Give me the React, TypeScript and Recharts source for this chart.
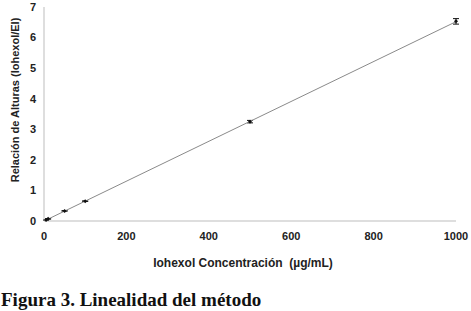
import { ComposedChart, Scatter, XAxis, YAxis, ErrorBar } from 'recharts';

// Iohexol calibration: concentration (µg/mL) vs height ratio (Iohexol/EI)
const concentrations = [5, 10, 50, 100, 500, 1000];
const ratios = [0.03, 0.07, 0.33, 0.65, 3.25, 6.53];
const ratioErrors = [0.01, 0.01, 0.01, 0.01, 0.04, 0.09];

// linear trend line end points
const trendX = [5, 1000];
const trendY = [0.03, 6.52];

const xTicks = [0, 200, 400, 600, 800, 1000];
const yTicks = [0, 1, 2, 3, 4, 5, 6, 7];

const points = concentrations.map((c, i) => ({ x: c, y: ratios[i], err: ratioErrors[i] }));
const trend = trendX.map((x, i) => ({ x, y: trendY[i] }));

const FONT = '"Liberation Sans", Arial, sans-serif';

function PointMark(props: any) {
    const { cx, cy } = props;
    if (cx == null || cy == null) return null;
    return <path d={`M${cx - 2},${cy} L${cx},${cy - 2} L${cx + 2},${cy} L${cx},${cy + 2} Z`} fill="#111" />;
}

function YTitle(props: any) {
    const vb = props.viewBox || { x: 0, y: 0, width: 44, height: 214 };
    const x = vb.x + 15;
    const y = vb.y + vb.height / 2 - 14;
    return (
        <text
            x={x}
            y={y}
            transform={`rotate(-90 ${x} ${y})`}
            textAnchor="middle"
            dominantBaseline="central"
            fontFamily={FONT}
            fontWeight="bold"
            fontSize={11}
            fill="#222"
        >
            Relación de Alturas (Iohexol/EI)
        </text>
    );
}

function XTitle(props: any) {
    const vb = props.viewBox || { x: 44, y: 221, width: 412, height: 54 };
    const x = vb.x + vb.width / 2 - 7;
    const y = vb.y + 46;
    return (
        <text
            x={x}
            y={y}
            textAnchor="middle"
            fontFamily={FONT}
            fontWeight="bold"
            fontSize={12}
            fill="#222"
            style={{ whiteSpace: 'pre' }}
        >
            Iohexol Concentración  (µg/mL)
        </text>
    );
}

export default function App() {
    return (
        <div style={{ position: 'absolute', left: 0, top: 0, width: 471, height: 311, background: '#fff' }}>
            <ComposedChart
                width={471}
                height={275}
                margin={{ top: 7, right: 15, left: 0, bottom: 0 }}
            >
                <XAxis
                    type="number"
                    dataKey="x"
                    domain={[0, 1000]}
                    ticks={xTicks}
                    height={54}
                    tickLine={false}
                    tickMargin={5}
                    axisLine={{ stroke: '#bdbdbd' }}
                    tick={{ fontFamily: FONT, fontWeight: 'bold', fontSize: 11, fill: '#222' }}
                    label={{ content: XTitle }}
                />
                <YAxis
                    type="number"
                    dataKey="y"
                    domain={[0, 7]}
                    ticks={yTicks}
                    width={44}
                    tickLine={false}
                    axisLine={{ stroke: '#bdbdbd' }}
                    tick={{ fontFamily: FONT, fontWeight: 'bold', fontSize: 11, fill: '#222' }}
                    label={{ content: YTitle }}
                />
                <Scatter
                    data={trend}
                    line={{ stroke: '#8a8a8a', strokeWidth: 1 }}
                    shape={() => null}
                    isAnimationActive={false}
                />
                <Scatter data={points} shape={PointMark} isAnimationActive={false}>
                    <ErrorBar dataKey="err" direction="y" width={3} stroke="#111" strokeWidth={1} />
                </Scatter>
            </ComposedChart>
            <div
                style={{
                    position: 'absolute',
                    left: 1,
                    top: 290,
                    fontFamily: '"Liberation Serif", "Times New Roman", serif',
                    fontWeight: 'bold',
                    fontSize: 19,
                    lineHeight: '19px',
                    color: '#111',
                    whiteSpace: 'nowrap',
                }}
            >
                Figura 3. Linealidad del método
            </div>
        </div>
    );
}
